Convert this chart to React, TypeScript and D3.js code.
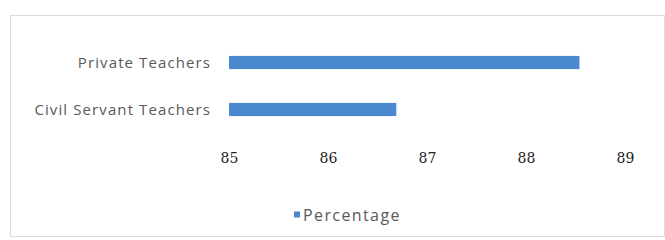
import React, { useEffect, useRef } from "react";
import * as d3 from "d3";

const categories = ["Private Teachers", "Civil Servant Teachers"];
const percentages = [88.54, 86.69];
const ticks = [85, 86, 87, 88, 89];
const seriesName = "Percentage";

const W = 665;
const H = 240;

const App: React.FC = () => {
  const svgRef = useRef<SVGSVGElement | null>(null);

  useEffect(() => {
    if (!svgRef.current) return;
    const svg = d3.select(svgRef.current);
    svg.selectAll("*").remove();

    const font = "'Open Sans', 'Noto Sans', sans-serif";
    const barColor = "#4a89cf";

    // chart frame
    svg
      .append("rect")
      .attr("x", 10.5)
      .attr("y", 15.5)
      .attr("width", W - 11)
      .attr("height", 221)
      .attr("fill", "white")
      .attr("stroke", "#dcdcdc");

    const x = d3.scaleLinear().domain([85, 89]).range([229, 625]);
    const y = d3
      .scaleBand<string>()
      .domain(categories)
      .range([39, 133])
      .paddingInner(0.72)
      .paddingOuter(0.36);

    const rows = categories.map((c, i) => ({ c, v: percentages[i] }));

    svg
      .append("g")
      .selectAll("rect")
      .data(rows)
      .join("rect")
      .attr("x", x(85))
      .attr("y", (d) => y(d.c)!)
      .attr("width", (d) => x(d.v) - x(85))
      .attr("height", y.bandwidth())
      .attr("fill", barColor);

    svg
      .append("g")
      .selectAll("text")
      .data(categories)
      .join("text")
      .attr("x", 211)
      .attr("y", (d) => y(d)! + y.bandwidth() / 2)
      .attr("dy", "0.35em")
      .attr("text-anchor", "end")
      .attr("font-family", font)
      .attr("font-size", 15)
      .attr("letter-spacing", 1.1)
      .attr("fill", "#595959")
      .text((d) => d);

    const axis = svg
      .append("g")
      .attr("transform", "translate(0,158)")
      .call(
        d3
          .axisBottom(x)
          .tickValues(ticks)
          .tickFormat(d3.format("d"))
          .tickSize(0)
          .tickPadding(0)
      );
    axis.select(".domain").remove();
    axis
      .attr("font-family", "'DejaVu Serif', 'Liberation Serif', serif")
      .selectAll("text")
      .attr("font-size", 14)
      .attr("fill", "#222")
      .attr("dy", "0.35em");

    // legend
    const legend = svg.append("g").attr("transform", "translate(294,215)");
    legend
      .append("rect")
      .attr("x", 0)
      .attr("y", -3.5)
      .attr("width", 6)
      .attr("height", 6)
      .attr("fill", barColor);
    legend
      .append("text")
      .attr("x", 9)
      .attr("y", 0)
      .attr("dy", "0.35em")
      .attr("font-family", font)
      .attr("font-size", 16)
      .attr("letter-spacing", 1.4)
      .attr("fill", "#595959")
      .text(seriesName);
  }, []);

  return (
    <svg
      ref={svgRef}
      width={W}
      height={H}
      style={{ position: "absolute", left: 0, top: 0, background: "white" }}
    />
  );
};

export default App;
